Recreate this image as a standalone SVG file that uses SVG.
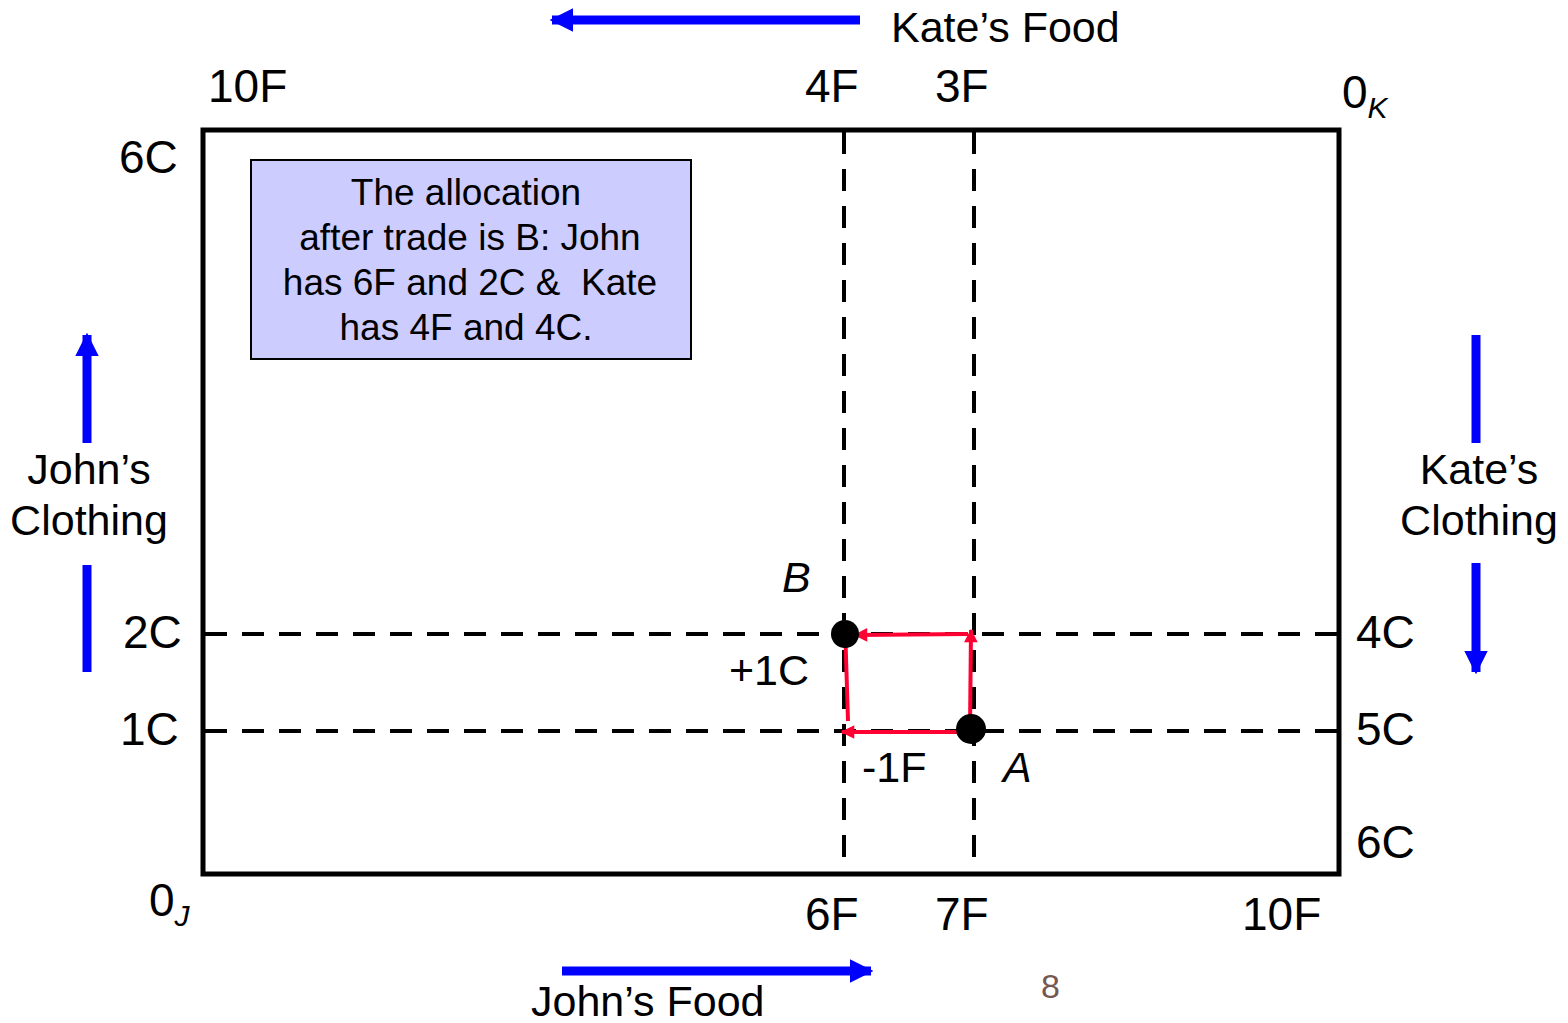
<svg xmlns="http://www.w3.org/2000/svg" width="1568" height="1023" viewBox="0 0 1568 1023">
<style>
text{font-family:"Liberation Sans",Arial,sans-serif;fill:#000}
.lbl{font-size:43px}
.num{font-size:46px}
.box{font-size:37px}
.sub{font-size:30px;font-style:italic}
.dash{stroke:#000;stroke-width:4;stroke-dasharray:22 15;fill:none}
.blue{stroke:#0000FF;stroke-width:9;fill:none}
.red{stroke:#FF0033;stroke-width:4;fill:none}
</style>
<defs>
<marker id="bh" viewBox="0 0 10 10" refX="9" refY="5" markerWidth="2.6" markerHeight="2.8" orient="auto" markerUnits="strokeWidth">
<path d="M0,0 L10,5 L0,10 z" fill="#0000FF"/>
</marker>
<marker id="rh" viewBox="0 0 10 10" refX="9" refY="5" markerWidth="3.6" markerHeight="3.4" orient="auto" markerUnits="strokeWidth">
<path d="M0,0 L10,5 L0,10 z" fill="#FF0033"/>
</marker>
</defs>
<rect width="1568" height="1023" fill="#fff"/>
<g id="frame">
<rect x="203" y="130" width="1136" height="744" fill="none" stroke="#000" stroke-width="5"/>
</g>
<g id="connectors">
<line class="dash" x1="844" y1="132" x2="844" y2="872"/>
<line class="dash" x1="974" y1="132" x2="974" y2="872"/>
<line class="dash" x1="205" y1="634" x2="1337" y2="634"/>
<line class="dash" x1="205" y1="731" x2="1337" y2="731"/>
<line class="red" x1="970" y1="729" x2="971" y2="630" marker-end="url(#rh)"/>
<line class="red" x1="968" y1="634" x2="855" y2="635" marker-end="url(#rh)"/>
<line class="red" x1="848" y1="721" x2="845" y2="625" marker-end="url(#rh)"/>
<line class="red" x1="966" y1="732" x2="842" y2="732" marker-end="url(#rh)"/>
<line class="blue" x1="860" y1="20" x2="552" y2="20" marker-end="url(#bh)"/>
<line class="blue" x1="562" y1="971" x2="871" y2="971" marker-end="url(#bh)"/>
<line class="blue" x1="87" y1="443" x2="87" y2="335" marker-end="url(#bh)"/>
<line class="blue" x1="87" y1="565" x2="87" y2="672"/>
<line class="blue" x1="1476" y1="335" x2="1476" y2="443"/>
<line class="blue" x1="1476" y1="563" x2="1476" y2="672" marker-end="url(#bh)"/>
</g>
<g id="pointB"><circle cx="845" cy="634" r="14" fill="#000"/></g>
<g id="pointA"><circle cx="971" cy="729" r="15" fill="#000"/></g>
<g id="infobox">
<rect x="251" y="160" width="440" height="199" fill="#CCCCFF" stroke="#000" stroke-width="2"/>
<text class="box" text-anchor="middle" x="466" y="205">The allocation</text>
<text class="box" text-anchor="middle" x="470" y="250">after trade is B: John</text>
<text class="box" text-anchor="middle" x="470" y="295" xml:space="preserve">has 6F and 2C &amp;  Kate</text>
<text class="box" text-anchor="middle" x="466" y="340">has 4F and 4C.</text>
</g>
<g id="labels">
<text class="lbl" x="891" y="42">Kate’s Food</text>
<text class="num" x="208" y="102">10F</text>
<text class="num" x="805" y="102">4F</text>
<text class="num" x="935" y="102">3F</text>
<text class="num" x="1342" y="108">0<tspan class="sub" dy="10">K</tspan></text>
<text class="num" x="119" y="173">6C</text>
<text class="num" x="123" y="648">2C</text>
<text class="num" x="120" y="745">1C</text>
<text class="num" x="149" y="916">0<tspan class="sub" dy="10">J</tspan></text>
<text class="num" x="805" y="930">6F</text>
<text class="num" x="935" y="930">7F</text>
<text class="num" x="1242" y="930">10F</text>
<text class="num" x="1356" y="648">4C</text>
<text class="num" x="1356" y="745">5C</text>
<text class="num" x="1356" y="858">6C</text>
<text class="lbl" x="782" y="592" font-style="italic">B</text>
<text class="lbl" x="729" y="685">+1C</text>
<text class="lbl" x="862" y="782">-1F</text>
<text class="lbl" x="1003" y="782" font-style="italic">A</text>
<text class="lbl" text-anchor="middle" x="89" y="484">John’s</text>
<text class="lbl" text-anchor="middle" x="89" y="535">Clothing</text>
<text class="lbl" text-anchor="middle" x="1479" y="484">Kate’s</text>
<text class="lbl" text-anchor="middle" x="1479" y="535">Clothing</text>
<text class="lbl" x="531" y="1016">John’s Food</text>
<text x="1041" y="998" font-size="34" style="fill:#76574F">8</text>
</g>
</svg>
